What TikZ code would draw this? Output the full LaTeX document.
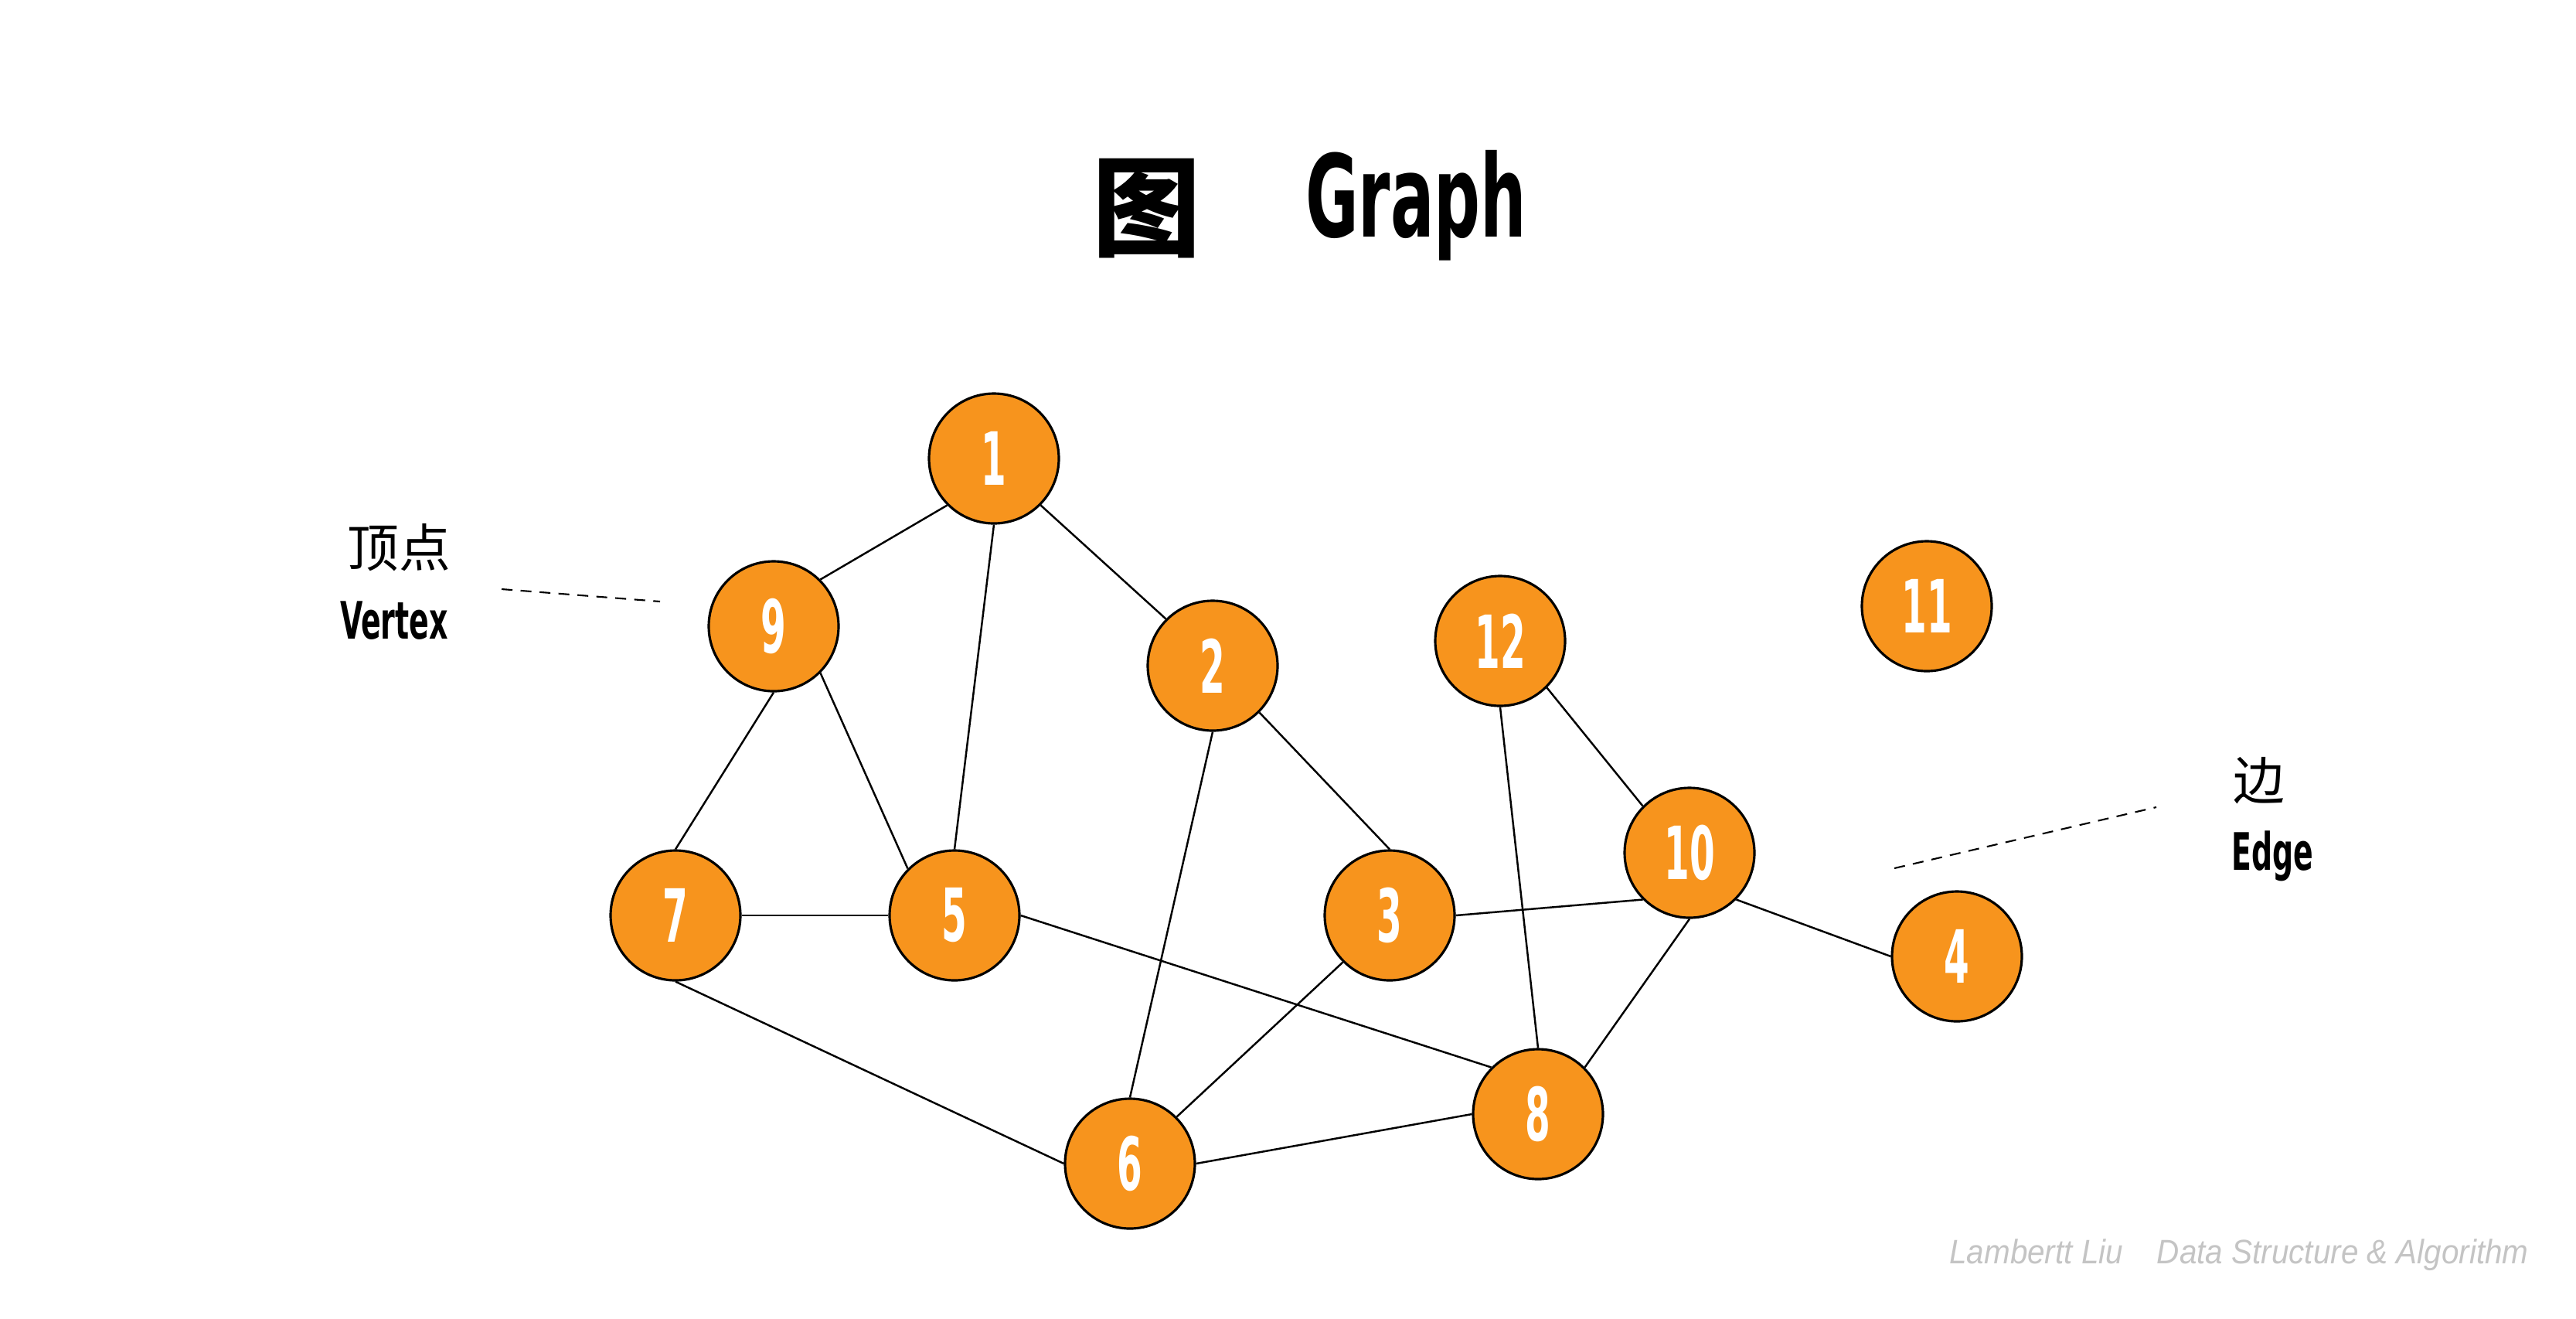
\documentclass[tikz,border=0pt]{standalone}
\usepackage{fontspec}
\usepackage{xcolor}
\definecolor{tangerine}{HTML}{F7941D}
\definecolor{mist}{HTML}{C4C4C4}
\newfontfamily\cjk{Noto Sans CJK SC}
\newfontfamily\condfont{DejaVu Sans Condensed}[FakeStretch=0.63]
\newfontfamily\digitfont{DejaVu Sans Condensed}[FakeStretch=0.55]
\newfontfamily\footfont{Liberation Sans}[FakeStretch=0.92]
\usepackage{tikz}
\usetikzlibrary{positioning}

\begin{document}
\begin{tikzpicture}[
    vertex/.style={circle, draw=black, line width=0.9pt, fill=tangerine,
      minimum size=1.68cm, inner sep=0pt, text=white,
      font=\digitfont\bfseries\fontsize{27}{27}\selectfont},
    link/.style={line width=0.7pt},
    hint/.style={dashed, line width=0.6pt, dash pattern=on 4pt off 3pt}]
  \useasboundingbox (0,0) rectangle (33.33,-17.05);

  % --- Title ---
  \node (zh) at (14.84,-2.70) {\cjk\bfseries\fontsize{40}{40}\selectfont 图};
  \node (en) at (18.32,-2.66) {\condfont\bfseries\fontsize{42}{42}\selectfont Graph};

  % --- Vertices ---
  \node[vertex] (n1)  at (12.86,-5.93)  {1};
  \node[vertex] (n9)  at (10.01,-8.10)  {9};
  \node[vertex] (n2)  at (15.69,-8.61)  {2};
  \node[vertex] (n12) at (19.41,-8.29)  {12};
  \node[vertex] (n11) at (24.93,-7.84)  {11};
  \node[vertex] (n7)  at (8.74,-11.84)  {7};
  \node[vertex] (n5)  at (12.35,-11.84) {5};
  \node[vertex] (n3)  at (17.98,-11.84) {3};
  \node[vertex] (n10) at (21.86,-11.03) {10};
  \node[vertex] (n4)  at (25.32,-12.37) {4};
  \node[vertex] (n8)  at (19.90,-14.41) {8};
  \node[vertex] (n6)  at (14.62,-15.05) {6};

  % --- Edges (anchor to anchor) ---
  \foreach \a/\b in {n9.north east/n1.south west, n1.south/n5.north,
                     n1.south east/n2.north west, n9.south/n7.north,
                     n9.south east/n5.north west, n7.east/n5.west,
                     n7.south/n6.west, n5.east/n8.north west,
                     n2.south/n6.north, n2.south east/n3.north,
                     n3.south west/n6.north east, n3.east/n10.south west,
                     n12.south east/n10.north west, n12.south/n8.north,
                     n10.south/n8.north east, n10.south east/n4.west,
                     n6.east/n8.west}
    \draw[link] (\a) -- (\b);

  % --- Vertex label (left) ---
  \node (vzh) at (5.16,-7.08) {\cjk\fontsize{19}{19}\selectfont 顶点};
  \node (ven) at (5.10,-8.03) {\condfont\bfseries\fontsize{19}{19}\selectfont Vertex};
  \coordinate (va) at (6.49,-7.62);
  \coordinate (vb) at (8.54,-7.78);
  \draw[hint] (va) -- (vb);

  % --- Edge label (right) ---
  \node (ezh) at (29.23,-10.10) {\cjk\fontsize{19}{19}\selectfont 边};
  \node (een) at (29.40,-11.07) {\condfont\bfseries\fontsize{19}{19}\selectfont Edge};
  \coordinate (ea) at (24.51,-11.23);
  \coordinate (eb) at (27.90,-10.44);
  \draw[hint] (ea) -- (eb);

  % --- Footer ---
  \node[text=mist, anchor=west] (foot) at (25.10,-16.23)
    {\footfont\itshape\fontsize{12.5}{12.5}\selectfont Lambertt Liu\quad Data Structure \& Algorithm};
\end{tikzpicture}
\end{document}
